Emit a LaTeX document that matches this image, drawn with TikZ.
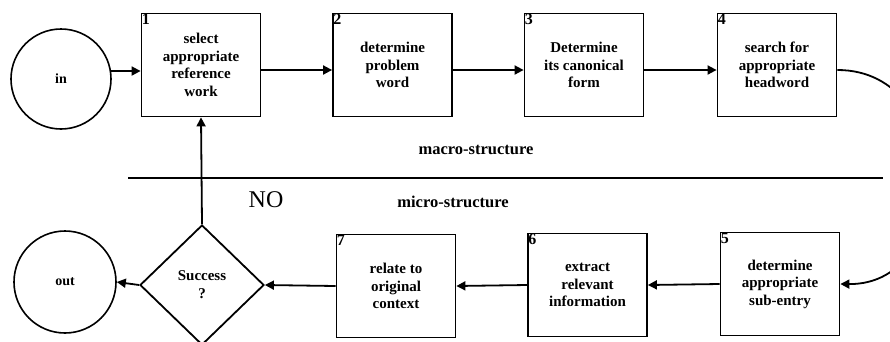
\documentclass[tikz,border=0pt]{standalone}
\usepackage{fontspec}
\setmainfont{Liberation Serif}
\usetikzlibrary{shapes.geometric,arrows.meta}

\tikzset{
  stepbox/.style={draw, line width=1.8pt, minimum width=119pt, minimum height=103pt,
    inner sep=0pt, align=center, font=\bfseries\fontsize{15}{17.5}\selectfont},
  num/.style={label={[anchor=north west, inner sep=1pt, font=\bfseries\fontsize{16}{16}\selectfont]north west:#1}},
  terminal/.style={draw, circle, line width=1.6pt, inner sep=0pt,
    font=\bfseries\fontsize{14}{15}\selectfont},
  decision/.style={draw, diamond, line width=1.8pt, inner sep=0pt,
    minimum width=124pt, minimum height=120pt, align=center,
    font=\bfseries\fontsize{15}{18}\selectfont},
  arr/.style={line width=1.8pt, -{Triangle[length=9pt,width=9pt]}},
  plain/.style={line width=1.6pt},
  region/.style={font=\bfseries\fontsize{16.5}{18}\selectfont}
}

\begin{document}
\begin{tikzpicture}[x=1pt,y=-1pt]
\useasboundingbox (0,0) rectangle (890,341);
\clip (0,0) rectangle (890,341);

% macro-structure row
\node[terminal, minimum size=100pt] (in) at (61,79) {in};
\node[stepbox, num=1] (b1) at (201,65) {select\\appropriate\\reference\\work};
\node[stepbox, num=2] (b2) at (392.5,65) {determine\\problem\\word};
\node[stepbox, num=3] (b3) at (584,65) {Determine\\its canonical\\form};
\node[stepbox, num=4] (b4) at (777,65) {search for\\appropriate\\headword};

% micro-structure row
\node[terminal, minimum size=102pt] (out) at (65,282) {out};
\node[decision] (dec) at (202,285) {Success\\?};
\node[stepbox, num=7] (b7) at (396,286) {relate to\\original\\context};
\node[stepbox, num=6] (b6) at (587.5,285) {extract\\relevant\\information};
\node[stepbox, num=5] (b5) at (780,284) {determine\\appropriate\\sub-entry};

% divider between the two levels
\coordinate (sepL) at (128,178);
\coordinate (sepR) at (883,178);
\draw[plain] (sepL) -- (sepR);
\node[region] (macro) at (476,150) {macro-structure};
\node[region] (micro) at (453,202) {micro-structure};
\node[font=\fontsize{24}{24}\selectfont] (no) at (266,200) {NO};

% connectors
\draw[arr] (in.9) -- ([yshift=-6pt]b1.west);
\draw[arr] ([yshift=-5pt]b1.east) -- ([yshift=-5pt]b2.west);
\draw[arr] ([yshift=-5pt]b2.east) -- ([yshift=-5pt]b3.west);
\draw[arr] ([yshift=-5pt]b3.east) -- ([yshift=-5pt]b4.west);
\draw[arr] ([yshift=-5pt]b4.east) .. controls (960,70) and (960,285) .. (b5.east);
\draw[arr] (b5.west) -- (b6.east);
\draw[arr] (b6.west) -- (b7.east);
\draw[arr] (b7.west) -- (dec.east);
\draw[arr] (dec.west) -- (out.east);
\draw[arr] (dec.north) -- (b1.south);
\end{tikzpicture}
\end{document}
